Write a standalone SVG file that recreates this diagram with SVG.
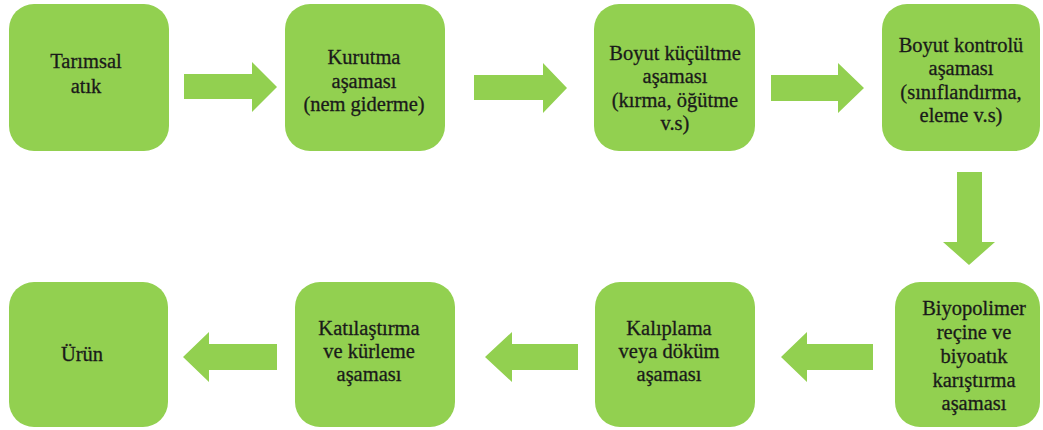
<svg xmlns="http://www.w3.org/2000/svg" width="1043" height="430" viewBox="0 0 1043 430" font-family="Liberation Serif">
<style>
.box{fill:#92D050;}
.arr{fill:#92D050;}
.t text{font-size:20.5px;fill:#1a1a1a;stroke:#1a1a1a;stroke-width:0.3;text-anchor:middle;}
</style>
<rect width="1043" height="430" fill="#ffffff"/>
<g id="connectors">
<polygon class="arr" points="184,74 252,74 252,62 277,87 252,112 252,99 184,99"/>
<polygon class="arr" points="474,75 543,75 543,63 567,88 543,113 543,100 474,100"/>
<polygon class="arr" points="771,75 838,75 838,63 864,88 838,113 838,101 771,101"/>
<polygon class="arr" points="957,172 982,172 982,242 995,242 969,265 943,242 957,242"/>
<polygon class="arr" points="873,344 807,344 807,332 781,357 807,382 807,370 873,370"/>
<polygon class="arr" points="578,344 512,344 512,332 485,357 512,382 512,370 578,370"/>
<polygon class="arr" points="277,344 209,344 209,332 183,357 209,382 209,370 277,370"/>
</g>
<g id="n1" class="t" font-family="Liberation Serif"><rect class="box" x="9" y="4" width="160" height="147" rx="25"/>
<text x="86" y="68">Tarımsal</text><text x="86" y="93">atık</text></g>
<g id="n2" class="t" font-family="Liberation Serif"><rect class="box" x="285" y="4" width="160" height="147" rx="25"/>
<text x="364" y="64">Kurutma</text><text x="364" y="88">aşaması</text><text x="364" y="111">(nem giderme)</text></g>
<g id="n3" class="t" font-family="Liberation Serif"><rect class="box" x="594" y="4" width="161" height="147" rx="25"/>
<text x="675" y="60">Boyut küçültme</text><text x="675" y="83">aşaması</text><text x="675" y="107">(kırma, öğütme</text><text x="675" y="130">v.s)</text></g>
<g id="n4" class="t" font-family="Liberation Serif"><rect class="box" x="882" y="4" width="158" height="147" rx="25"/>
<text x="961" y="52">Boyut kontrolü</text><text x="961" y="75">aşaması</text><text x="961" y="99">(sınıflandırma,</text><text x="961" y="122">eleme v.s)</text></g>
<g id="n5" class="t" font-family="Liberation Serif"><rect class="box" x="895" y="282" width="145" height="145" rx="25"/>
<text x="974" y="315">Biyopolimer</text><text x="974" y="339">reçine ve</text><text x="974" y="363">biyoatık</text><text x="974" y="387">karıştırma</text><text x="974" y="410">aşaması</text></g>
<g id="n6" class="t" font-family="Liberation Serif"><rect class="box" x="595" y="282" width="160" height="145" rx="25"/>
<text x="669" y="335">Kalıplama</text><text x="669" y="358">veya döküm</text><text x="669" y="381">aşaması</text></g>
<g id="n7" class="t" font-family="Liberation Serif"><rect class="box" x="295" y="282" width="160" height="145" rx="25"/>
<text x="369" y="335">Katılaştırma</text><text x="369" y="358">ve kürleme</text><text x="369" y="381">aşaması</text></g>
<g id="n8" class="t" font-family="Liberation Serif"><rect class="box" x="9" y="282" width="159" height="145" rx="25"/>
<text x="82" y="361">Ürün</text></g>
</svg>
